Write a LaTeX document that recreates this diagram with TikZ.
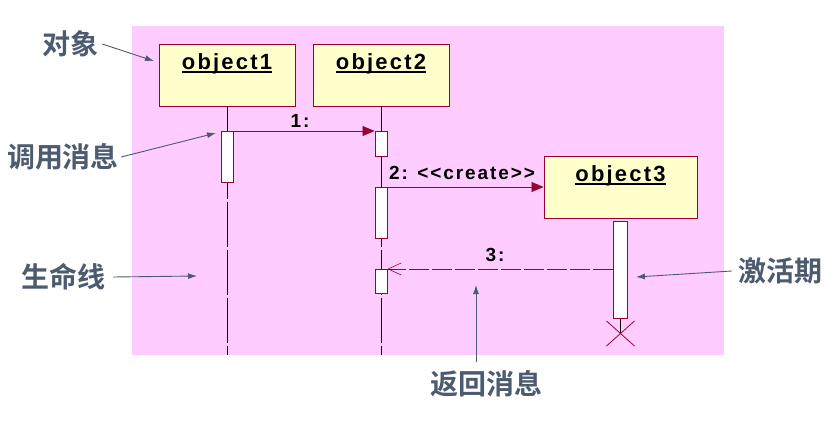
\documentclass[tikz,border=0pt]{standalone}
\usepackage{fontspec}
\setmainfont{Liberation Sans}
\newfontfamily\umlfont[LetterSpace=10]{Liberation Sans}
\newfontfamily\cjk[BoldFont={Noto Sans CJK SC Bold}]{Noto Sans CJK SC}
\usetikzlibrary{arrows.meta}
\definecolor{StageFill}{HTML}{FFCCFF}
\definecolor{ObjFill}{HTML}{FFFFCC}
\definecolor{UmlEdge}{HTML}{990033}
\definecolor{NoteInk}{HTML}{4C5B70}
\newcommand\objname[1]{\setbox0\hbox{#1}\rlap{\rule[-3.5pt]{\wd0}{2pt}}\box0}
\tikzset{
  objbox/.style={draw=UmlEdge, fill=ObjFill, line width=0.9pt, minimum height=62pt},
  objlabel/.style={font=\umlfont\bfseries\fontsize{22}{25}\selectfont, inner sep=0pt},
  actbar/.style={draw=UmlEdge, fill=white, line width=0.9pt, minimum width=12pt, anchor=north, inner sep=0pt},
  lifeline/.style={draw=black, line width=0.8pt, dash pattern=on 45pt off 3pt},
  callmsg/.style={-{Triangle[length=12pt,width=10pt]}, draw=UmlEdge, line width=0.8pt},
  returnmsg/.style={-{Straight Barb[length=13pt,width=12pt,line width=0.6pt]}, draw=UmlEdge, line width=0.8pt, dash pattern=on 20pt off 3pt},
  msglabel/.style={font=\umlfont\bfseries\fontsize{19}{22}\selectfont, inner sep=0pt},
  note/.style={font=\cjk\bfseries\fontsize{28}{32}\selectfont, text=NoteInk, inner sep=0pt},
  notearrow/.style={-{Latex[length=9pt,width=6pt]}, draw=NoteInk, line width=0.9pt},
}
\begin{document}
\begin{tikzpicture}[x=1pt, y=-1pt]
  \useasboundingbox (0,0) rectangle (836,431);
  % stage
  \fill[StageFill] (132,26) rectangle (724,355);

  % objects
  \node[objbox, minimum width=136pt] (obj1) at (227,75) {};
  \node[objbox, minimum width=136pt] (obj2) at (381,75) {};
  \node[objbox, minimum width=153pt] (obj3) at (620.5,187) {};
  \node[objlabel] (obj1name) at (227,64) {\objname{object1}};
  \node[objlabel] (obj2name) at (381,64) {\objname{object2}};
  \node[objlabel] (obj3name) at (620.5,176) {\objname{object3}};

  % lifelines
  \coordinate (end1) at (227,355);
  \coordinate (end2) at (381,355);
  \draw[lifeline] (obj1.south) -- (end1);
  \draw[lifeline] (obj2.south) -- (end2);

  % activation bars
  \node[actbar, minimum height=51pt] (act1) at (227,131) {};
  \node[actbar, minimum height=25pt] (act2a) at (381,131) {};
  \node[actbar, minimum height=51pt] (act2b) at (381,187) {};
  \node[actbar, minimum height=24pt] (act2c) at (381,269) {};
  \node[actbar, minimum height=97pt, minimum width=14pt] (act3) at (620.5,221) {};

  % destruction
  \coordinate (kill) at (620.5,333.5);
  \draw[line width=0.8pt] (act3.south) -- (kill);
  \draw[UmlEdge, line width=0.8pt] ([shift={(-14,-12.5)}]kill) -- ([shift={(14,12.5)}]kill)
    ([shift={(-14,12.5)}]kill) -- ([shift={(14,-12.5)}]kill);

  % messages
  \draw[callmsg] (act1.north east) -- (act2a.north west);
  \draw[callmsg] (act2b.north east) -- (obj3.west);
  \draw[returnmsg] (act3.west |- act2c.north) -- (act2c.north east);
  \node[msglabel] (msg1) at (300,121) {1:};
  \node[msglabel] (msg2) at (462,173) {2: <<create>>};
  \node[msglabel] (msg3) at (495,255) {3:};

  % notes
  \node[note] (noteObj) at (70,44) {对象};
  \node[note] (noteCall) at (63,157) {调用消息};
  \node[note] (noteLife) at (63,277) {生命线};
  \node[note] (noteAct) at (780,271) {激活期};
  \node[note] (noteRet) at (486,384) {返回消息};
  \coordinate (tipObj) at (154,61);
  \coordinate (tipCall) at (216,133);
  \coordinate (tipLife) at (197,276);
  \coordinate (tipAct) at (636,277);
  \coordinate (tipRet) at (476,285);
  \draw[notearrow] ([xshift=4pt]noteObj.east) -- (tipObj);
  \draw[notearrow] ([xshift=2pt]noteCall.east) -- (tipCall);
  \draw[notearrow] ([xshift=8pt]noteLife.east) -- (tipLife);
  \draw[notearrow] ([xshift=-6pt]noteAct.west) -- (tipAct);
  \draw[notearrow] (476,362) -- (tipRet);
\end{tikzpicture}
\end{document}
